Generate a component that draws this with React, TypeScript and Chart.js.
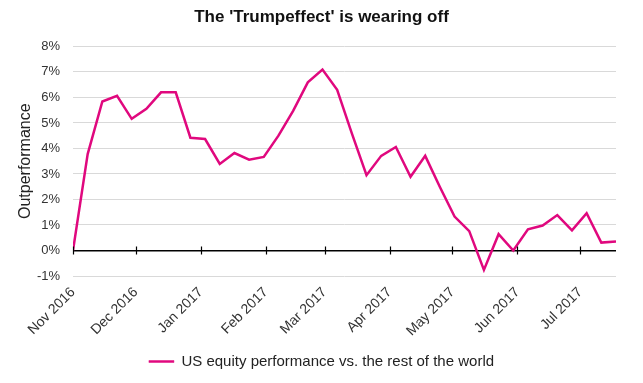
import React, { useEffect, useRef } from "react";
import { Chart, registerables } from "chart.js";

Chart.register(...registerables);

const TITLE = "The 'Trumpeffect' is wearing off";
const SERIES_LABEL = "US equity performance vs. the rest of the world";
const Y_TITLE = "Outperformance";

const dates = [
  "2016-11-01", "2016-11-08", "2016-11-15", "2016-11-22", "2016-11-29",
  "2016-12-06", "2016-12-13", "2016-12-20", "2016-12-27",
  "2017-01-03", "2017-01-10", "2017-01-17", "2017-01-24", "2017-01-31",
  "2017-02-07", "2017-02-14", "2017-02-21", "2017-02-28",
  "2017-03-07", "2017-03-14", "2017-03-21", "2017-03-28",
  "2017-04-04", "2017-04-11", "2017-04-18", "2017-04-25",
  "2017-05-02", "2017-05-09", "2017-05-16", "2017-05-23", "2017-05-30",
  "2017-06-06", "2017-06-13", "2017-06-20", "2017-06-27",
  "2017-07-04", "2017-07-11", "2017-07-18",
];

const outperformance = [
  0, 3.78, 5.84, 6.06, 5.16,
  5.55, 6.2, 6.2, 4.42,
  4.37, 3.39, 3.82, 3.56, 3.67,
  4.5, 5.47, 6.59, 7.09,
  6.3, 4.59, 2.95, 3.71,
  4.06, 2.89, 3.71, 2.49,
  1.33, 0.76, -0.76, 0.64, 0.0,
  0.83, 0.98, 1.39, 0.79,
  1.46, 0.31, 0.35,
];

const monthTickDates = [
  "2016-11-01", "2016-12-01", "2017-01-01", "2017-02-01", "2017-03-01",
  "2017-04-01", "2017-05-01", "2017-06-01", "2017-07-01",
];
const monthTickLabels = [
  "Nov 2016", "Dec 2016", "Jan 2017", "Feb 2017", "Mar 2017",
  "Apr 2017", "May 2017", "Jun 2017", "Jul 2017",
];

const yTickValues = [-1, 0, 1, 2, 3, 4, 5, 6, 7, 8];

const LINE_COLOR = "#e0087e";
const FONT = "'Liberation Sans', Arial, sans-serif";

const DAY = 86400000;
const origin = Date.parse(dates[0] + "T00:00:00Z");
const toDay = (s: string) => Math.round((Date.parse(s + "T00:00:00Z") - origin) / DAY);

export default function App() {
  const ref = useRef<HTMLCanvasElement | null>(null);

  useEffect(() => {
    document.body.style.margin = "0";
    const canvas = ref.current;
    if (!canvas) return;
    const monthDays = monthTickDates.map(toDay);
    const points = dates.map((d, i) => ({ x: toDay(d), y: outperformance[i] }));

    const zeroTicks = {
      id: "zeroTicks",
      afterDatasetsDraw(chart: any) {
        const { ctx, scales } = chart;
        const xs = scales.x;
        const ys = scales.y;
        const y0 = ys.getPixelForValue(0);
        ctx.save();
        ctx.strokeStyle = "#000";
        ctx.lineWidth = 1.2;
        ctx.beginPath();
        monthDays.forEach((d) => {
          const x = Math.round(xs.getPixelForValue(d)) + 0.5;
          ctx.moveTo(x, y0 - 4);
          ctx.lineTo(x, y0 + 4);
        });
        ctx.stroke();
        ctx.restore();
      },
    };

    const chart = new Chart(canvas, {
      type: "line",
      data: {
        datasets: [
          {
            label: SERIES_LABEL,
            data: points,
            borderColor: LINE_COLOR,
            backgroundColor: LINE_COLOR,
            borderWidth: 2.5,
            pointRadius: 0,
            tension: 0,
            fill: false,
            yAxisID: "y",
          },
        ],
      },
      options: {
        responsive: false,
        animation: false,
        layout: { padding: { left: 0, right: 0, top: 0, bottom: 4 } },
        plugins: {
          title: {
            display: true,
            text: TITLE,
            color: "#111",
            font: { family: FONT, size: 17, weight: "bold" },
            padding: { top: 7, bottom: 19 },
          },
          legend: {
            display: true,
            position: "bottom",
            labels: {
              boxWidth: 25,
              boxHeight: 2,
              color: "#222",
              font: { family: FONT, size: 15 },
              padding: 10,
              generateLabels: (chart: any) => {
                const items = Chart.defaults.plugins.legend.labels.generateLabels(chart);
                return items.map((it: any) => ({ ...it, lineWidth: 0.5 }));
              },
            },
          },
          tooltip: { enabled: false },
        },
        scales: {
          x: {
            type: "linear",
            min: 0,
            max: toDay(dates[dates.length - 1]),
            afterBuildTicks: (scale: any) => {
              scale.ticks = monthDays.map((v) => ({ value: v }));
            },
            afterFit: (scale: any) => {
              scale.height = 68;
            },
            grid: { display: false, drawTicks: false },
            border: { display: false },
            ticks: {
              autoSkip: false,
              minRotation: 45,
              maxRotation: 45,
              padding: 8,
              color: "#333",
              font: { family: FONT, size: 14 },
              callback: (v: any) => {
                const i = monthDays.indexOf(Number(v));
                return i >= 0 ? monthTickLabels[i] : "";
              },
            },
          },
          y: {
            type: "linear",
            position: "left",
            min: -1,
            max: 8,
            afterBuildTicks: (scale: any) => {
              scale.ticks = yTickValues.map((v) => ({ value: v }));
            },
            afterFit: (scale: any) => {
              scale.width = 73;
            },
            grid: {
              drawTicks: false,
              color: (c: any) => (c.tick && c.tick.value === 0 ? "#000" : "#d9d9d9"),
              lineWidth: (c: any) => (c.tick && c.tick.value === 0 ? 1.5 : 1),
            },
            border: { display: false },
            ticks: {
              padding: 13,
              color: "#333",
              font: { family: FONT, size: 13 },
              callback: (v: any) => `${v}%`,
            },
            title: {
              display: true,
              text: Y_TITLE,
              color: "#222",
              font: { family: FONT, size: 16 },
              padding: { top: 16, bottom: 0 },
            },
          },
          yRight: {
            type: "linear",
            position: "right",
            display: true,
            grid: { display: false, drawTicks: false },
            border: { display: false },
            ticks: { display: false },
            afterFit: (scale: any) => {
              scale.width = 27;
            },
          },
        },
      },
      plugins: [zeroTicks],
    });
    return () => chart.destroy();
  }, []);

  return <canvas ref={ref} width={643} height={383} style={{ display: "block" }} />;
}
